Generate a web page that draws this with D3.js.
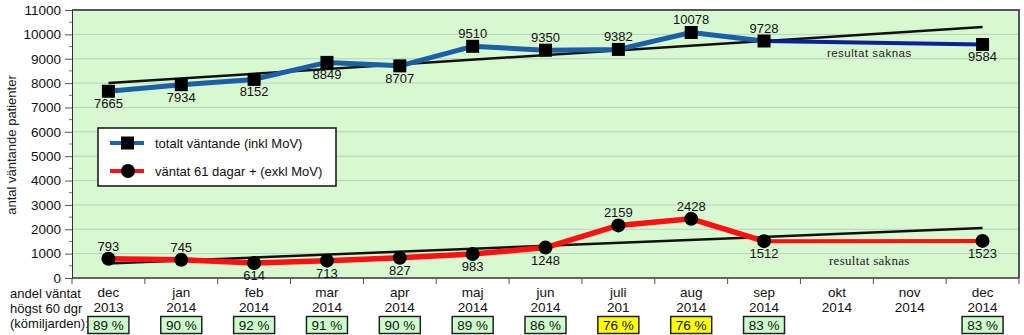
<!DOCTYPE html>
<html><head><meta charset="utf-8">
<script src="https://cdn.jsdelivr.net/npm/d3@7"></script>
<style>body{margin:0;background:#fff}svg{display:block;font-family:"Liberation Sans",Arial,sans-serif}</style>
</head><body><svg id="c" width="1024" height="335"></svg>
<script>
const months = ["dec","jan","feb","mar","apr","maj","jun","juli","aug","sep","okt","nov","dec"];
const years = ["2013","2014","2014","2014","2014","2014","2014","201","2014","2014","2014","2014","2014"];
const totalt = [7665,7934,8152,8849,8707,9510,9350,9382,10078,9728,null,null,9584];
const vantat = [793,745,614,713,827,983,1248,2159,2428,1512,null,null,1523];
const totaltLabelPos = ["b","b","b","b","b","a","a","a","a","a",null,null,"b"];
const vantatLabelPos = ["a","a","b","b","b","b","b","a","a","b",null,null,"b"];
const andel = ["89 %","90 %","92 %","91 %","90 %","89 %","86 %","76 %","76 %","83 %",null,null,"83 %"];
const andelWarn = [false,false,false,false,false,false,false,true,true,false,false,false,false];
const trendTotalt = [8000,10300];
const trendVantat = [600,2050];
const yTicks = [0,1000,2000,3000,4000,5000,6000,7000,8000,9000,10000,11000];

const svg = d3.select("#c");
const L=72,R=1019,T=10,B=278;
const idx = d3.range(months.length);
const x = d3.scaleBand().domain(idx).range([L,R]).padding(0);
const cx = i => x(i)+x.bandwidth()/2;
const y = d3.scaleLinear().domain([0,11000]).range([B,T]);

svg.append("rect").attr("x",L).attr("y",T).attr("width",R-L).attr("height",B-T).attr("fill","#d8f8d2");
svg.append("g").selectAll("line").data(yTicks.slice(1,-1)).join("line")
 .attr("x1",L).attr("x2",R).attr("y1",d=>y(d)).attr("y2",d=>y(d)).attr("stroke","#b8d4b8").attr("stroke-width",1);
svg.append("path").attr("d",`M${L},${T}H${R}V${B}`).attr("fill","none").attr("stroke","#555").attr("stroke-width",2);

const ya = svg.append("g").attr("transform",`translate(${L},0)`).call(d3.axisLeft(y).tickValues(yTicks).tickFormat(d3.format("d")).tickSize(7).tickPadding(4));
ya.select(".domain").attr("stroke","#333");
ya.selectAll("text").attr("font-size",13.5).attr("fill","#111").attr("font-family","Liberation Sans, Arial");
ya.selectAll(".tick line").attr("stroke","#555");
ya.append("g").selectAll("line").data(d3.range(500,11000,1000)).join("line")
 .attr("x1",0).attr("x2",-3).attr("y1",d=>y(d)).attr("y2",d=>y(d)).attr("stroke","#777");

const xg = svg.append("g");
xg.append("line").attr("x1",L).attr("x2",R).attr("y1",B).attr("y2",B).attr("stroke","#333").attr("stroke-width",1.5);
xg.selectAll(".t").data(d3.range(months.length+1)).join("line").attr("class","t")
 .attr("x1",i=>L+i*x.bandwidth()).attr("x2",i=>L+i*x.bandwidth()).attr("y1",B).attr("y2",B+6).attr("stroke","#555");

svg.append("text").attr("transform","translate(16,145) rotate(-90)").attr("text-anchor","middle")
 .attr("font-size",13).attr("fill","#222").text("antal väntande patienter");

const lineGen = d3.line().defined(d=>d.v!=null).x(d=>cx(d.i)).y(d=>y(d.v));
const last = months.length-1;
[trendTotalt,trendVantat].forEach(t=>{
  svg.append("line").attr("x1",cx(0)).attr("x2",cx(last)).attr("y1",y(t[0])).attr("y2",y(t[1]))
   .attr("stroke","#111").attr("stroke-width",2.5);
});

function series(vals,color,tailColor,w,marker){
  const pts = vals.map((v,i)=>({v,i}));
  svg.append("path").datum(pts.slice(0,10)).attr("d",lineGen).attr("fill","none").attr("stroke",color).attr("stroke-width",w).attr("stroke-linejoin","round");
  const tail=[pts[9],pts[last]];
  svg.append("path").datum(tail).attr("d",lineGen).attr("fill","none").attr("stroke",tailColor).attr("stroke-width",4);
  const m = pts.filter(d=>d.v!=null);
  if(marker==="sq"){
    svg.append("g").selectAll("rect").data(m).join("rect").attr("x",d=>cx(d.i)-6.5).attr("y",d=>y(d.v)-6.5).attr("width",13).attr("height",13).attr("fill","#000");
  } else {
    svg.append("g").selectAll("circle").data(m).join("circle").attr("cx",d=>cx(d.i)).attr("cy",d=>y(d.v)).attr("r",7).attr("fill","#000");
  }
  return m;
}
const mT = series(totalt,"#1a5fa8","#0d1f9a",5,"sq");
const mV = series(vantat,"#ff1010","#ff1010",5.5,"ci");

function labels(m,pos){
  svg.append("g").selectAll("text").data(m).join("text")
   .attr("x",d=>cx(d.i)).attr("y",d=>y(d.v)+(pos[d.i]==="a"?-8:17))
   .attr("text-anchor","middle").attr("font-size",13).attr("fill","#111").text(d=>d.v);
}
labels(mT,totaltLabelPos);
labels(mV,vantatLabelPos);

const rsX = (cx(10)+cx(11))/2 - 4;
svg.append("text").attr("x",rsX).attr("y",y(9080)).attr("text-anchor","middle")
 .attr("font-size",11.5).attr("fill","#222").attr("letter-spacing",0.5).text("resultat saknas");
svg.append("text").attr("x",rsX).attr("y",y(540)).attr("text-anchor","middle")
 .attr("font-size",13).attr("fill","#222").attr("font-family","Liberation Serif, DejaVu Serif, serif").attr("letter-spacing",0.3).text("resultat saknas");

const lg = svg.append("g");
lg.append("rect").attr("x",98).attr("y",128).attr("width",238).attr("height",58).attr("fill","#fff").attr("stroke","#111").attr("stroke-width",1.5);
[["totalt väntande (inkl MoV)","#1a5fa8","sq",143],["väntat 61 dagar + (exkl MoV)","#ff1010","ci",171]].forEach(([t,c,mk,yy])=>{
  lg.append("line").attr("x1",110).attr("x2",144).attr("y1",yy).attr("y2",yy).attr("stroke",c).attr("stroke-width",4);
  if(mk==="sq") lg.append("rect").attr("x",121).attr("y",yy-6.5).attr("width",13).attr("height",13).attr("fill","#000");
  else lg.append("circle").attr("cx",128).attr("cy",yy).attr("r",7).attr("fill","#000");
  lg.append("text").attr("x",155).attr("y",yy+4.5).attr("font-size",13).attr("fill","#111").text(t);
});

["andel väntat","högst 60 dgr","(kömiljarden):"].forEach((t,i)=>{
  svg.append("text").attr("x",10).attr("y",298+i*15).attr("font-size",13).attr("fill","#111").text(t);
});
const bl = svg.append("g");
bl.selectAll(".m").data(idx).join("text").attr("class","m").attr("x",i=>cx(i)).attr("y",297).attr("text-anchor","middle").attr("font-size",13.5).attr("fill","#111").text(i=>months[i]);
bl.selectAll(".yr").data(idx).join("text").attr("class","yr").attr("x",i=>cx(i)).attr("y",312).attr("text-anchor","middle").attr("font-size",13.5).attr("fill","#111").text(i=>years[i]);
const ai = idx.filter(i=>andel[i]!=null);
bl.selectAll(".bx").data(ai).join("rect").attr("class","bx").attr("x",i=>cx(i)-20.5).attr("y",316.5).attr("width",41).attr("height",17)
 .attr("fill",i=>andelWarn[i]?"#ffff00":"#ccffcc").attr("stroke","#222").attr("stroke-width",1.5);
bl.selectAll(".pt").data(ai).join("text").attr("class","pt").attr("x",i=>cx(i)).attr("y",329.5).attr("text-anchor","middle").attr("font-size",13.5).attr("fill","#111").text(i=>andel[i]);
</script></body></html>
